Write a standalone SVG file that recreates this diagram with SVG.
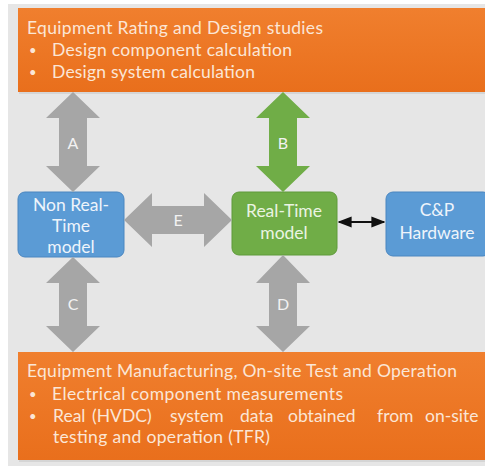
<svg xmlns="http://www.w3.org/2000/svg" width="485" height="468" viewBox="0 0 485 468">
<defs>
<linearGradient id="og" x1="0" y1="0" x2="0" y2="1">
<stop offset="0" stop-color="#f07f2e"/>
<stop offset="1" stop-color="#e96f1c"/>
</linearGradient>
<style>
.t{font-family:Lato,"Liberation Sans",sans-serif;}
.ot{fill:#fbe6d6;font-size:17.5px;}
.bu{fill:#fbe6d6;font-size:13px;}
.nt{fill:#eef4fb;font-size:17.5px;text-anchor:middle;}
.gt{fill:#eaf4e2;font-size:17.5px;text-anchor:middle;}
.lb{fill:#f2f2f2;font-size:16px;text-anchor:middle;}
.gray{fill:#a6a6a6;}
.green{fill:#70ad47;}
</style>
<marker id="ah" viewBox="0 0 10 10" refX="9" refY="5" markerWidth="7" markerHeight="7" orient="auto-start-reverse">
<path d="M0,1 L10,5 L0,9 z" fill="#111"/>
</marker>
</defs>
<rect x="0" y="0" width="485" height="468" fill="#ffffff"/>
<rect x="8" y="4" width="477" height="462" fill="#e6e6e6"/>

<g id="top-box">
<rect x="19" y="10" width="470" height="84" fill="#c9c9c9" opacity="0.6"/>
<rect x="18" y="8" width="470" height="84" fill="url(#og)"/>
<text class="t ot" x="27" y="34" textLength="296">Equipment Rating and Design studies</text>
<text class="t bu" x="29" y="55">•</text>
<text class="t ot" x="52" y="56" textLength="240">Design component calculation</text>
<text class="t bu" x="29" y="77">•</text>
<text class="t ot" x="52" y="78" textLength="203">Design system calculation</text>
</g>

<g id="bottom-box">
<rect x="19" y="354" width="470" height="108" fill="#c9c9c9" opacity="0.6"/>
<rect x="18" y="352" width="470" height="108" fill="url(#og)"/>
<text class="t ot" x="27" y="377" textLength="430">Equipment Manufacturing, On-site Test and Operation</text>
<text class="t bu" x="29" y="399">•</text>
<text class="t ot" x="52" y="400" textLength="291">Electrical component measurements</text>
<text class="t bu" x="29" y="421">•</text>
<text class="t ot" y="422"><tspan x="53">Real</tspan><tspan x="92">(HVDC)</tspan><tspan x="170">system</tspan><tspan x="240">data</tspan><tspan x="288">obtained</tspan><tspan x="377">from</tspan><tspan x="425">on-site</tspan></text>
<text class="t ot" x="53" y="443" textLength="217">testing and operation (TFR)</text>
</g>

<g id="non-real-time-model">
<rect x="18" y="192" width="106" height="65" rx="7" fill="#5b9bd5" stroke="#4a86c0" stroke-width="1"/>
<text class="t nt" x="71" y="211">Non Real-</text>
<text class="t nt" x="71" y="232">Time</text>
<text class="t nt" x="71" y="253">model</text>
</g>

<g id="real-time-model">
<rect x="232" y="192" width="105" height="63" rx="7" fill="#70ad47" stroke="#5f9a3a" stroke-width="1"/>
<text class="t gt" x="284" y="217">Real-Time</text>
<text class="t gt" x="284" y="239">model</text>
</g>

<g id="cp-hardware">
<rect x="386" y="192" width="104" height="64" rx="7" fill="#5b9bd5" stroke="#4a86c0" stroke-width="1"/>
<text class="t nt" x="437" y="216">C&amp;P</text>
<text class="t nt" x="437" y="239">Hardware</text>
</g>

<g id="connectors">
<polygon class="gray" points="73,92 100,118 87,118 87,166 100,166 73,192 46,166 59,166 59,118 46,118"/>
<text class="t lb" x="73" y="149">A</text>
<polygon class="green" points="283,92 310,118 297,118 297,166 310,166 283,192 256,166 269,166 269,118 256,118"/>
<text class="t lb" x="283" y="149" fill="#e2efd9">B</text>
<polygon class="gray" points="73,257 100,283 87,283 87,326 100,326 73,352 46,326 59,326 59,283 46,283"/>
<text class="t lb" x="73" y="310">C</text>
<polygon class="gray" points="283,255 310,283 297,283 297,326 310,326 283,352 256,326 269,326 269,283 256,283"/>
<text class="t lb" x="283" y="310">D</text>
<polygon class="gray" points="124,220 152,193 152,206 204,206 204,193 232,220 204,247 204,234 152,234 152,247"/>
<text class="t lb" x="178" y="226">E</text>
<line x1="339" y1="222" x2="384" y2="222" stroke="#111" stroke-width="2" marker-start="url(#ah)" marker-end="url(#ah)"/>
</g>
</svg>
